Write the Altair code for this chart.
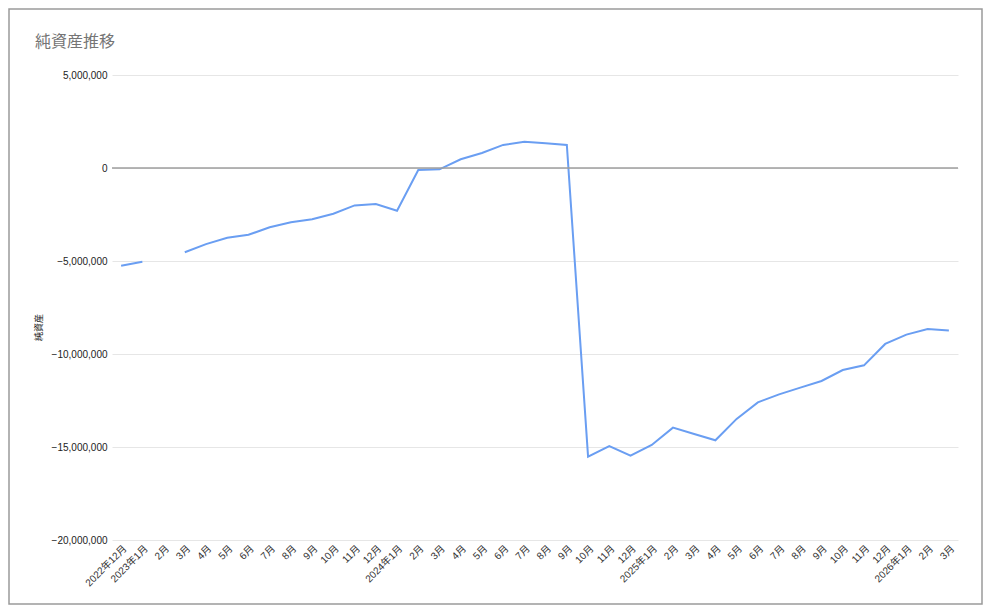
import json
import altair as alt
import pandas as pd

# Month keys (unique) and their displayed tick labels
months = [
    "2022-12",
    "2023-01", "2023-02", "2023-03", "2023-04", "2023-05", "2023-06",
    "2023-07", "2023-08", "2023-09", "2023-10", "2023-11", "2023-12",
    "2024-01", "2024-02", "2024-03", "2024-04", "2024-05", "2024-06",
    "2024-07", "2024-08", "2024-09", "2024-10", "2024-11", "2024-12",
    "2025-01", "2025-02", "2025-03", "2025-04", "2025-05", "2025-06",
    "2025-07", "2025-08", "2025-09", "2025-10", "2025-11", "2025-12",
    "2026-01", "2026-02", "2026-03",
]
tick_labels = [
    "2022年12月",
    "2023年1月", "2月", "3月", "4月", "5月", "6月",
    "7月", "8月", "9月", "10月", "11月", "12月",
    "2024年1月", "2月", "3月", "4月", "5月", "6月",
    "7月", "8月", "9月", "10月", "11月", "12月",
    "2025年1月", "2月", "3月", "4月", "5月", "6月",
    "7月", "8月", "9月", "10月", "11月", "12月",
    "2026年1月", "2月", "3月",
]
# 純資産 (net assets), None = missing month
net_assets = [
    -5250000,
    -5040000, None, -4530000, -4090000, -3750000, -3590000,
    -3190000, -2920000, -2760000, -2460000, -2010000, -1940000,
    -2300000, -110000, -70000, 470000, 810000, 1240000,
    1410000, 1330000, 1240000, -15520000, -14950000, -15470000,
    -14890000, -13960000, -14300000, -14640000, -13490000, -12600000,
    -12170000, -11810000, -11450000, -10860000, -10610000, -9460000,
    -8960000, -8660000, -8730000,
]
y_ticks = [-20000000, -15000000, -10000000, -5000000, 0, 5000000]
title_text = "純資産推移"
y_title = "純資産"

df = pd.DataFrame({"month": months, "value": net_assets})
one = pd.DataFrame({"a": [0]})

FONT = "Liberation Sans, Arial, Noto Sans CJK JP, sans-serif"
W, H = 846, 465
PAD = {"left": 104, "top": 67, "right": 25, "bottom": 65}

y_scale = alt.Scale(domain=[y_ticks[0], y_ticks[-1]], nice=False, zero=False)

label_expr = (
    f"{json.dumps(tick_labels, ensure_ascii=False)}"
    f"[indexof({json.dumps(months)}, datum.value)]"
)

x_enc = alt.X(
    "month:O",
    sort=months,
    scale=alt.Scale(type="point", padding=0.43),
    axis=alt.Axis(
        title=None,
        labelAngle=-45,
        labelAlign="right",
        labelBaseline="top",
        labelExpr=label_expr,
        labelFontSize=10,
        labelColor="#333333",
        labelFont=FONT,
        labelPadding=3,
        ticks=False,
        domain=False,
        grid=False,
        labelOverlap=False,
    ),
)

y_axis = alt.Axis(
    title=y_title,
    values=y_ticks,
    format=",.0f",
    formatType="number",
    labelFontSize=10,
    labelColor="#222222",
    labelFont=FONT,
    labelPadding=5,
    ticks=False,
    domain=False,
    gridColor="#e6e6e6",
    gridWidth=1,
    titleFont=FONT,
    titleFontSize=9,
    titleFontWeight="normal",
    titleColor="#222222",
    titleAngle=-90,
    titleX=-74,
    titleY=252,
    titleAlign="center",
    titleBaseline="middle",
)

line = alt.Chart(df).mark_line(
    color="#6a9ef2", strokeWidth=2, invalid="break-paths-show-domains"
).encode(x=x_enc, y=alt.Y("value:Q", scale=y_scale, axis=y_axis))

zero_rule = alt.Chart(one).mark_rule(
    color="#9e9e9e", strokeWidth=1.5
).encode(y=alt.datum(0, type="quantitative", scale=y_scale, axis=y_axis))

frame = alt.Chart(one).mark_rect(
    fill=None, stroke="#9a9a9a", strokeWidth=1.5
).encode(
    x=alt.value(-PAD["left"] + 1),
    x2=alt.value(W + PAD["right"] - 1),
    y=alt.value(-PAD["top"] + 1),
    y2=alt.value(H + PAD["bottom"] - 1),
)

title = alt.Chart(one).mark_text(
    text=title_text,
    align="left",
    baseline="middle",
    font=FONT,
    fontSize=16,
    color="#757575",
).encode(x=alt.value(-77), y=alt.value(-33))

chart = (
    alt.layer(line, zero_rule, frame, title)
    .properties(
        width=W,
        height=H,
        padding=PAD,
        autosize=alt.AutoSizeParams(type="none"),
        view=alt.ViewBackground(stroke="transparent", strokeWidth=0),
    )
    .configure_view(stroke="transparent", strokeWidth=0)
    .configure(background="white")
)

chart.save("out.html", embed_options={"renderer": "svg", "actions": False})
